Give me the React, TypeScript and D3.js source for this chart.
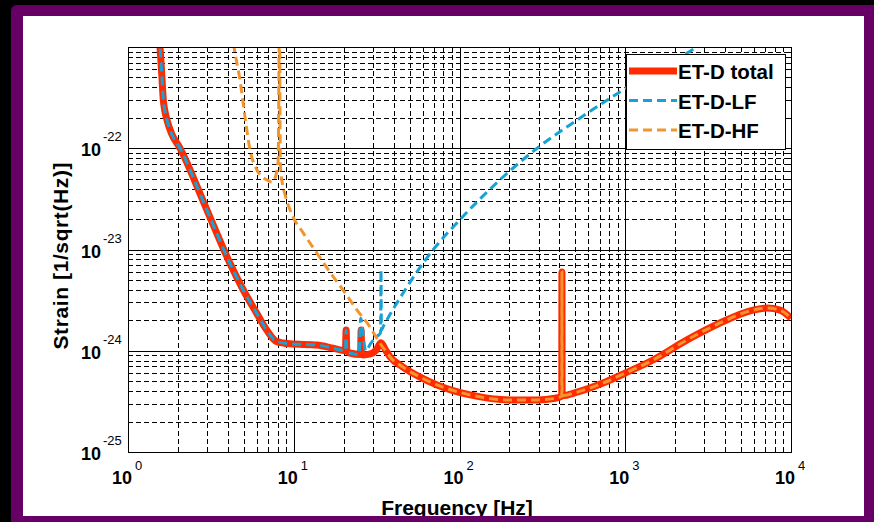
import React, { useEffect, useRef } from 'react';
import * as d3 from 'd3';

// ET-D sensitivity curves
const totalFreq = [1.5, 1.56, 1.597, 1.633, 1.66, 1.719, 1.83, 2.06, 2.26, 2.6, 3.43, 4.12, 4.96, 5.98, 6.87, 7.89, 9.5, 13.8, 17.3, 20.5, 20.7, 20.9, 21.8, 25.3, 25.5, 25.7, 26.2, 29, 31.5, 33.6, 36, 38.1, 45.6, 57.8, 73.2, 116, 202, 294, 377, 414, 415, 416, 512, 734, 996, 1470, 2360, 3730, 5900, 7170, 8590, 10000];
const totalStrain = [2.5e-21, 1e-21, 5.5e-22, 3.0e-22, 2.45e-22, 1.9e-22, 1.4e-22, 1e-22, 7.3e-23, 4.25e-23, 1.45e-23, 7.3e-24, 3.98e-24, 2.34e-24, 1.6e-24, 1.23e-24, 1.17e-24, 1.14e-24, 1.06e-24, 1.0e-24, 1.6e-24, 1.0e-24, 9.5e-25, 9.2e-25, 1.6e-24, 9.2e-25, 9.1e-25, 9.3e-25, 1.02e-24, 1.2e-24, 1.0e-24, 8.7e-25, 6.9e-25, 5.5e-25, 4.6e-25, 3.66e-25, 3.27e-25, 3.27e-25, 3.4e-25, 3.55e-25, 6e-24, 3.6e-25, 3.9e-25, 4.8e-25, 6.0e-25, 8.1e-25, 1.28e-24, 1.88e-24, 2.52e-24, 2.64e-24, 2.52e-24, 2.1e-24];

const lfFreq = [1.5, 1.56, 1.597, 1.633, 1.66, 1.719, 1.83, 2.06, 2.26, 2.6, 3.43, 4.12, 4.96, 5.98, 6.87, 7.89, 9.5, 13.8, 17.3, 20.5, 20.7, 20.9, 21.8, 24.8, 25.3, 27.2, 29, 32, 33.4, 33.6, 33.8, 34.6, 45.6, 69.2, 100, 183, 294, 512, 969, 2710, 4000];
const lfStrain = [2.5e-21, 1e-21, 5.5e-22, 3.0e-22, 2.45e-22, 1.9e-22, 1.4e-22, 1e-22, 7.3e-23, 4.25e-23, 1.45e-23, 7.3e-24, 3.98e-24, 2.34e-24, 1.6e-24, 1.23e-24, 1.17e-24, 1.14e-24, 1.06e-24, 1.0e-24, 1.6e-24, 1.0e-24, 9.5e-25, 9.2e-25, 2.1e-24, 1.0e-24, 1.17e-24, 1.4e-24, 1.5e-24, 6.3e-24, 1.6e-24, 1.72e-24, 3.7e-24, 9.9e-24, 1.95e-23, 5.2e-23, 1e-22, 1.9e-22, 3.76e-22, 1e-21, 1.5e-21];

const hfFreq = [4.2, 4.36, 4.74, 5.08, 5.45, 6.0, 6.9, 7.4, 7.75, 8.05, 8.2, 8.3, 8.6, 8.85, 9.9, 11.4, 13.8, 16.5, 19.8, 24.1, 28.8, 32.2, 34.5, 36, 38.1, 45.6, 57.8, 73.2, 116, 202, 294, 377, 414, 415, 416, 512, 734, 996, 1470, 2360, 3730, 5900, 7170, 8590, 10000];
const hfStrain = [1.5e-21, 1e-21, 4.7e-22, 2.04e-22, 9.6e-23, 6.1e-23, 4.85e-23, 4.65e-23, 5.2e-23, 7.5e-23, 2e-21, 7.0e-23, 4.2e-23, 3.5e-23, 2.1e-23, 1.46e-23, 9.2e-24, 6.0e-24, 4.0e-24, 2.52e-24, 1.72e-24, 1.28e-24, 1.08e-24, 1.0e-24, 8.7e-25, 6.9e-25, 5.5e-25, 4.6e-25, 3.66e-25, 3.27e-25, 3.27e-25, 3.4e-25, 3.55e-25, 6e-24, 3.6e-25, 3.9e-25, 4.8e-25, 6.0e-25, 8.1e-25, 1.28e-24, 1.88e-24, 2.52e-24, 2.64e-24, 2.52e-24, 2.1e-24];

const xTickExps = [0, 1, 2, 3, 4];
const yTickExps = [-25, -24, -23, -22];
const seriesNames = ['ET-D total', 'ET-D-LF', 'ET-D-HF'];

export default function App() {
    const ref = useRef<SVGSVGElement>(null);

    useEffect(() => {
        const svgWidth = 874, svgHeight = 522;
        const plot = { left: 128, top: 47, right: 791, bottom: 452 };
        const font = '"Liberation Sans", Arial, sans-serif';

        const svg = d3.select(ref.current);
        svg.selectAll('*').remove();
        svg.attr('width', svgWidth).attr('height', svgHeight);

        // frame: black page, purple border, white figure
        svg.append('rect').attr('width', svgWidth).attr('height', svgHeight).attr('fill', '#000');
        svg.append('rect').attr('x', 11).attr('y', 5).attr('width', 880).attr('height', 530)
            .attr('rx', 6).attr('fill', '#660066');
        svg.append('rect').attr('x', 23).attr('y', 16).attr('width', 841).attr('height', 500).attr('fill', '#fff');

        const xScale = d3.scaleLog().domain([1, 1e4]).range([plot.left, plot.right]);
        const yScale = d3.scaleLog().domain([1e-25, 1e-21]).range([plot.bottom, plot.top]);
        const px = (v: number) => Math.round(v) + 0.5;

        // grid
        const grid = svg.append('g').attr('shape-rendering', 'crispEdges');
        const xMinor: number[] = [], yMinor: number[] = [];
        for (let d = 0; d < 4; d++) for (let k = 2; k <= 9; k++) xMinor.push(k * Math.pow(10, d));
        for (let d = -25; d < -21; d++) for (let k = 2; k <= 9; k++) yMinor.push(k * Math.pow(10, d));

        xMinor.forEach(f => {
            grid.append('line').attr('x1', px(xScale(f))).attr('x2', px(xScale(f)))
                .attr('y1', plot.top).attr('y2', plot.bottom)
                .attr('stroke', '#000').attr('stroke-dasharray', '5,3');
        });
        yMinor.forEach(s => {
            grid.append('line').attr('y1', px(yScale(s))).attr('y2', px(yScale(s)))
                .attr('x1', plot.left).attr('x2', plot.right)
                .attr('stroke', '#000').attr('stroke-dasharray', '5,3');
        });
        xTickExps.slice(1, -1).forEach(e => {
            const x = px(xScale(Math.pow(10, e)));
            grid.append('line').attr('x1', x).attr('x2', x).attr('y1', plot.top).attr('y2', plot.bottom).attr('stroke', '#000');
        });
        yTickExps.slice(1).forEach(e => {
            const y = px(yScale(Math.pow(10, e)));
            grid.append('line').attr('y1', y).attr('y2', y).attr('x1', plot.left).attr('x2', plot.right).attr('stroke', '#000');
        });

        // minor ticks, inward on all sides
        xMinor.forEach(f => {
            const x = px(xScale(f));
            grid.append('line').attr('x1', x).attr('x2', x).attr('y1', plot.top).attr('y2', plot.top + 5).attr('stroke', '#000');
            grid.append('line').attr('x1', x).attr('x2', x).attr('y1', plot.bottom - 5).attr('y2', plot.bottom).attr('stroke', '#000');
        });
        yMinor.forEach(s => {
            const y = px(yScale(s));
            grid.append('line').attr('y1', y).attr('y2', y).attr('x1', plot.left).attr('x2', plot.left + 5).attr('stroke', '#000');
            grid.append('line').attr('y1', y).attr('y2', y).attr('x1', plot.right - 5).attr('x2', plot.right).attr('stroke', '#000');
        });

        // curves
        svg.append('clipPath').attr('id', 'plotClip').append('rect')
            .attr('x', plot.left).attr('y', plot.top)
            .attr('width', plot.right - plot.left).attr('height', plot.bottom - plot.top);

        const line = d3.line<[number, number]>()
            .x(d => xScale(d[0]))
            .y(d => yScale(d[1]))
            .curve(d3.curveMonotoneX);
        const zip = (f: number[], s: number[]) => f.map((v, i) => [v, s[i]] as [number, number]);

        const curves = svg.append('g').attr('clip-path', 'url(#plotClip)');
        curves.append('path').datum(zip(totalFreq, totalStrain))
            .attr('fill', 'none').attr('stroke', '#ff2a00').attr('stroke-width', 7)
            .attr('stroke-linejoin', 'round').attr('d', line);
        curves.append('path').datum(zip(lfFreq, lfStrain))
            .attr('fill', 'none').attr('stroke', '#17a2d6').attr('stroke-width', 3)
            .attr('stroke-dasharray', '9,5').attr('d', line);
        curves.append('path').datum(zip(hfFreq, hfStrain))
            .attr('fill', 'none').attr('stroke', '#f2952f').attr('stroke-width', 3)
            .attr('stroke-dasharray', '9,5').attr('d', line);

        // axes box
        svg.append('rect').attr('x', plot.left + 0.5).attr('y', plot.top + 0.5)
            .attr('width', plot.right - plot.left).attr('height', plot.bottom - plot.top)
            .attr('fill', 'none').attr('stroke', '#000').attr('shape-rendering', 'crispEdges');

        // tick labels
        xTickExps.forEach(e => {
            const x = xScale(Math.pow(10, e));
            svg.append('text').attr('x', x - 16).attr('y', 484)
                .attr('font-family', font).attr('font-size', 18).attr('font-weight', 'bold').text('10');
            svg.append('text').attr('x', x + 7).attr('y', 470)
                .attr('font-family', font).attr('font-size', 13).text(String(e));
        });
        yTickExps.forEach(e => {
            const y = yScale(Math.pow(10, e));
            svg.append('text').attr('x', 101).attr('y', y + 8).attr('text-anchor', 'end')
                .attr('font-family', font).attr('font-size', 18).attr('font-weight', 'bold').text('10');
            svg.append('text').attr('x', 103).attr('y', y - 7)
                .attr('font-family', font).attr('font-size', 13).text(String(e));
        });

        // axis labels
        svg.append('text').attr('x', 457).attr('y', 514.5).attr('text-anchor', 'middle')
            .attr('font-family', font).attr('font-size', 21).attr('font-weight', 'bold')
            .text('Frequency [Hz]');
        svg.append('text').attr('transform', 'translate(68,256) rotate(-90)').attr('text-anchor', 'middle')
            .attr('font-family', font).attr('font-size', 21).attr('font-weight', 'bold')
            .attr('textLength', 187).attr('lengthAdjust', 'spacing')
            .text('Strain [1/sqrt(Hz)]');

        // legend
        const legend = svg.append('g');
        legend.append('rect').attr('x', 626.5).attr('y', 54.5).attr('width', 159).attr('height', 95)
            .attr('fill', '#fff').attr('stroke', '#000').attr('shape-rendering', 'crispEdges');
        const legendStyles = [
            { color: '#ff2a00', width: 7, dash: null },
            { color: '#17a2d6', width: 3, dash: '9,5' },
            { color: '#f2952f', width: 3, dash: '9,5' },
        ];
        seriesNames.forEach((name, i) => {
            const cy = 71 + i * 29.5;
            const st = legendStyles[i];
            legend.append('line').attr('x1', 629).attr('x2', 677).attr('y1', cy).attr('y2', cy)
                .attr('stroke', st.color).attr('stroke-width', st.width)
                .attr('stroke-dasharray', st.dash);
            legend.append('text').attr('x', 678).attr('y', cy + 8)
                .attr('font-family', font).attr('font-size', 20.5).attr('font-weight', 'bold').text(name);
        });

        // purple border cuts the bottom of the x label
        svg.append('rect').attr('x', 11).attr('y', 516).attr('width', 863).attr('height', 6).attr('fill', '#660066');
    }, []);

    return (
        <div style={{ position: 'absolute', left: 0, top: 0 }}>
            <svg ref={ref} style={{ display: 'block' }}></svg>
        </div>
    );
}
